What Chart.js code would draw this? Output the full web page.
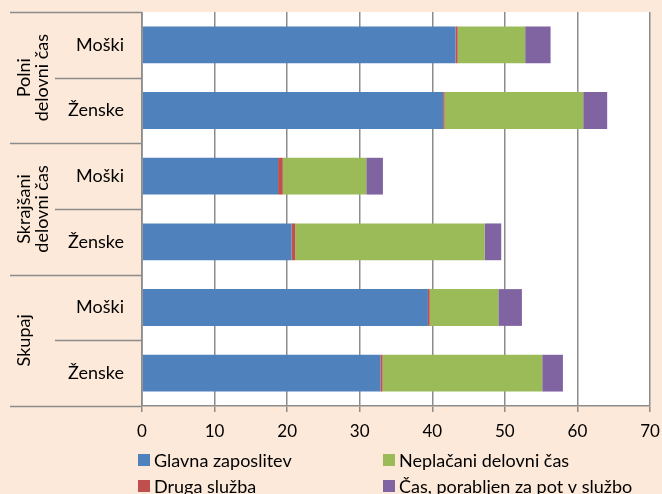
<!DOCTYPE html>
<html>
<head>
<meta charset="utf-8">
<script src="https://cdn.jsdelivr.net/npm/chart.js@4/dist/chart.umd.min.js"></script>
<style>
  html, body { margin: 0; padding: 0; background: #FDE9D9; }
  #wrap { width: 662px; height: 494px; }
</style>
</head>
<body>
<div id="wrap"><canvas id="myChart" width="662" height="494"></canvas></div>
<script>
// kategorije (od zgoraj navzdol)
const labels = ['Moški', 'Ženske', 'Moški', 'Ženske', 'Moški', 'Ženske'];
const groups = [['Polni', 'delovni čas'], ['Skrajšani', 'delovni čas'], ['Skupaj']];
const xTicks = [0, 10, 20, 30, 40, 50, 60, 70];

// ure na teden
const glavna = [43.2, 41.5, 18.75, 20.6, 39.4, 32.85];
const druga = [0.3, 0.2, 0.65, 0.5, 0.25, 0.3];
const neplacani = [9.3, 19.1, 11.5, 26.1, 9.45, 22.0];
const pot = [3.5, 3.3, 2.3, 2.3, 3.25, 2.85];

const seriesNames = ['Glavna zaposlitev', 'Druga služba', 'Neplačani delovni čas', 'Čas, porabljen za pot v službo'];
const colors = ['#4F81BD', '#C0504D', '#9BBB59', '#8064A2'];

const FONT = 'Lato, "Open Sans", sans-serif';
const GRAY = '#8c8c8c';

// ozadje, ločilne črte, skupine in legenda
const decor = {
  id: 'decor',
  beforeDraw(chart) {
    const { ctx, chartArea: a } = chart;
    ctx.save();
    ctx.fillStyle = '#FDE9D9';
    ctx.fillRect(0, 0, chart.width, chart.height);
    ctx.fillStyle = '#ffffff';
    ctx.fillRect(a.left, a.top, a.right - a.left, a.bottom - a.top);
    ctx.restore();
  },
  afterDraw(chart) {
    const { ctx, chartArea: a } = chart;
    const rowH = (a.bottom - a.top) / labels.length;
    ctx.save();
    ctx.strokeStyle = GRAY;
    ctx.lineWidth = 1.5;
    for (let i = 0; i <= labels.length; i++) {
      const y = Math.round(a.top + i * rowH) + 0.5;
      const x0 = i % 2 === 0 ? 10 : 55;
      ctx.beginPath();
      ctx.moveTo(x0, y);
      ctx.lineTo(a.left, y);
      ctx.stroke();
    }
    ctx.beginPath();
    ctx.moveTo(a.left, a.top);
    ctx.lineTo(a.left, a.bottom);
    ctx.stroke();

    // imena skupin, zasukana
    ctx.fillStyle = '#000';
    ctx.font = '18px ' + FONT;
    ctx.textAlign = 'center';
    ctx.textBaseline = 'middle';
    groups.forEach((g, gi) => {
      const cy = a.top + (gi * 2 + 1) * rowH;
      g.forEach((line, li) => {
        ctx.save();
        ctx.translate(24 + li * 18, cy);
        ctx.rotate(-Math.PI / 2);
        ctx.fillText(line, 0, 0);
        ctx.restore();
      });
    });

    // legenda v dveh stolpcih
    ctx.textAlign = 'left';
    chart.data.datasets.forEach((ds, i) => {
      const col = Math.floor(i / 2);
      const row = i % 2;
      const x = col === 0 ? 138 : 383;
      const y = 460 + row * 26;
      ctx.fillStyle = ds.backgroundColor;
      ctx.fillRect(x, y - 6, 12, 12);
      ctx.fillStyle = '#000';
      ctx.fillText(ds.label, x + 16, y + 1);
    });
    ctx.restore();
  }
};

const ctx = document.getElementById('myChart').getContext('2d');
const myChart = new Chart(ctx, {
  type: 'bar',
  data: {
    labels: labels,
    datasets: [glavna, druga, neplacani, pot].map((d, i) => ({
      label: seriesNames[i],
      data: d,
      backgroundColor: colors[i],
      borderWidth: 0,
      barPercentage: 0.56,
      categoryPercentage: 1
    }))
  },
  options: {
    indexAxis: 'y',
    responsive: false,
    animation: false,
    layout: { padding: { top: 12, right: 12, left: 10, bottom: 48 } },
    plugins: {
      legend: { display: false },
      tooltip: { enabled: false }
    },
    scales: {
      x: {
        stacked: true,
        min: 0,
        max: 70,
        afterBuildTicks(scale) { scale.ticks = xTicks.map(v => ({ value: v })); },
        afterFit(scale) {
          scale.height = 40;
          scale.paddingLeft = 0;
          scale.paddingRight = 0;
        },
        grid: { color: GRAY, lineWidth: 1.5, tickLength: 6, tickColor: GRAY },
        border: { color: GRAY, width: 1.5 },
        ticks: { color: '#000', font: { family: FONT, size: 17 }, padding: 9, maxRotation: 0 }
      },
      y: {
        stacked: true,
        afterFit(scale) {
          scale.width = 132;
          scale.paddingTop = 0;
          scale.paddingBottom = 0;
        },
        grid: { display: false },
        border: { display: false },
        ticks: { color: '#000', font: { family: FONT, size: 18 }, padding: 10 }
      }
    }
  },
  plugins: [decor]
});
</script>
</body>
</html>
